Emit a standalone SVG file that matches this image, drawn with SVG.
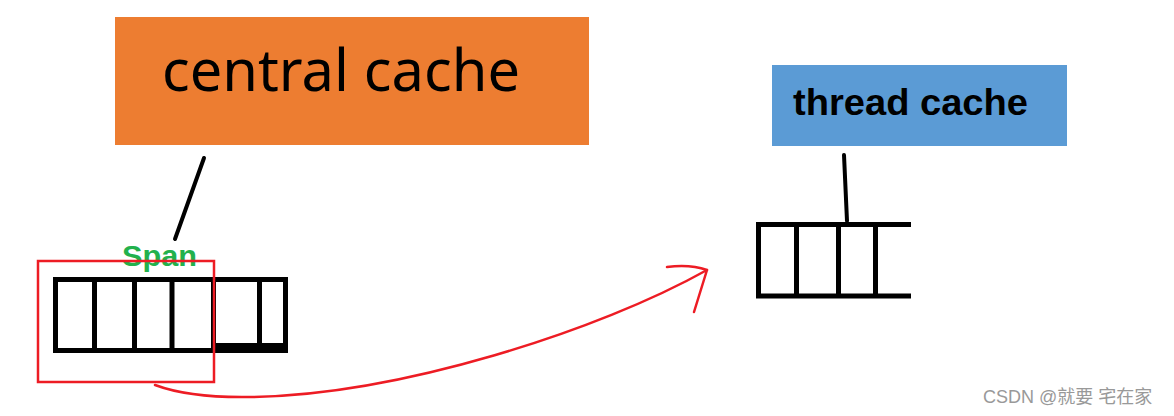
<svg xmlns="http://www.w3.org/2000/svg" width="1174" height="416" viewBox="0 0 1174 416">
<style>
.blk{fill:none;stroke:#000;stroke-width:5;stroke-linecap:butt}
.conn{fill:none;stroke:#000;stroke-width:4;stroke-linecap:round}
.red{fill:none;stroke:#ED1C24;stroke-width:2.5;stroke-linecap:round;stroke-linejoin:round}
</style>
<rect x="0" y="0" width="1174" height="416" fill="#fff"/>
<g id="central-cache">
<rect x="115" y="17" width="474" height="128" fill="#ED7D31"/>
<text x="162" y="91" font-family="Noto Sans, Open Sans, sans-serif" font-size="58" fill="#000" textLength="358" lengthAdjust="spacingAndGlyphs">central cache</text>
</g>
<g id="thread-cache">
<rect x="772" y="65" width="295" height="81" fill="#5B9BD5"/>
<text x="793" y="115" font-family="Liberation Sans, Arial, sans-serif" font-weight="bold" font-size="37" fill="#000" textLength="235" lengthAdjust="spacingAndGlyphs">thread cache</text>
</g>
<g id="span-label">
<text x="122" y="266" font-family="Liberation Sans, Arial, sans-serif" font-weight="bold" font-size="30" fill="#22B14C" textLength="75" lengthAdjust="spacingAndGlyphs">Span</text>
</g>
<g id="span-blocks">
<rect x="55.5" y="279.5" width="230" height="71" class="blk"/>
<line x1="94.5" y1="280" x2="94.5" y2="350" class="blk"/>
<line x1="134.5" y1="280" x2="134.5" y2="350" class="blk"/>
<line x1="172" y1="280" x2="172" y2="350" class="blk"/>
<line x1="213.5" y1="280" x2="213.5" y2="350" class="blk"/>
<line x1="259.5" y1="280" x2="259.5" y2="350" class="blk"/>
<rect x="213" y="343" width="75" height="10" fill="#000"/>
</g>
<g id="span-selection">
<rect x="38" y="261" width="176" height="121" fill="none" stroke="#ED1C24" stroke-width="2.5"/>
</g>
<g id="thread-queue">
<path d="M911,224.5 H758.5 V296 H911" class="blk"/>
<line x1="796.5" y1="224.5" x2="796.5" y2="296" class="blk"/>
<line x1="838.5" y1="224.5" x2="838.5" y2="296" class="blk"/>
<line x1="875.5" y1="224.5" x2="875.5" y2="296" class="blk"/>
</g>
<g id="connectors">
<line x1="204" y1="158" x2="175" y2="239" class="conn"/>
<line x1="844" y1="155" x2="847" y2="221" class="conn"/>
<path d="M155,385 Q190,398 250,397 C400,395 600,330 707,270" class="red"/>
<path d="M667,267 Q690,264 707,270 L694,312" class="red"/>
</g>
<g id="watermark">
<text x="983" y="403" font-family="Liberation Sans, Arial, Noto Sans CJK SC, sans-serif" font-size="18" fill="#999">CSDN @就要 宅在家</text>
</g>
</svg>
